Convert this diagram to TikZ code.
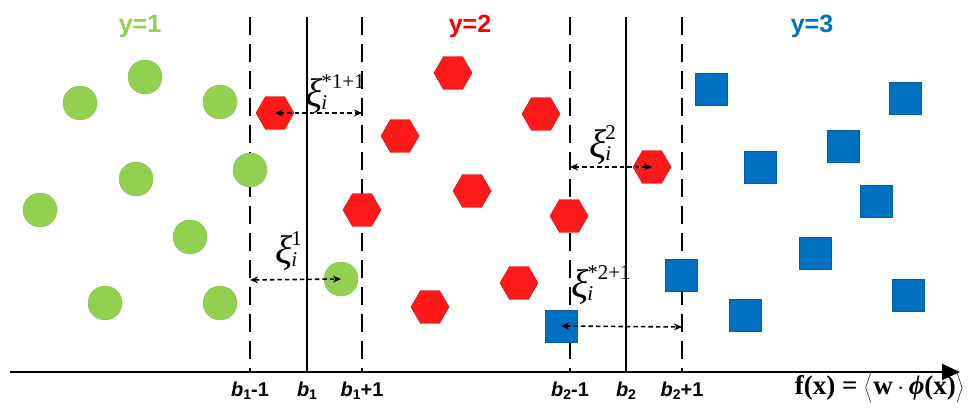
\documentclass[tikz,border=0pt]{standalone}
\usepackage{fontspec}
\setmainfont{Liberation Serif}
\setsansfont{Liberation Sans}
\usetikzlibrary{shapes.geometric,arrows.meta}
\definecolor{cgreen}{HTML}{92D050}
\definecolor{cred}{HTML}{FF1A1A}
\definecolor{cblue}{HTML}{0070C0}
\newcommand{\xil}[1]{{\fontsize{40}{40}\selectfont\itshape ξ}\kern-1pt\rlap{\raisebox{-3pt}{\fontsize{21}{21}\selectfont\itshape i}}\raisebox{18pt}{\fontsize{21}{21}\selectfont\upshape #1}}
\newcommand{\blab}[2]{{\sffamily\bfseries\fontsize{20}{20}\selectfont\itshape b\/\upshape\raisebox{-3pt}{\fontsize{14}{14}\selectfont #1}#2}}
\newcommand{\fxlabel}{\fontsize{27}{27}\selectfont\bfseries f(x) = \(\bigangle{\langle}\)w\,\(\cdot\)\,\textit{ϕ}(x)\(\bigangle{\rangle}\)}
\newcommand{\bigangle}[1]{\hbox{\boldmath$\left#1\vrule height 17pt depth 8pt width 0pt\right.$}}
\begin{document}
\begin{tikzpicture}[x=1pt,y=-1pt,
  circ/.style={circle, fill=cgreen, draw=cgreen!85!black, line width=0.3pt, minimum size=34pt, inner sep=0pt},
  hexa/.style={regular polygon, regular polygon sides=6, minimum size=38pt, fill=cred, draw=red!85!black, line width=0.4pt, inner sep=0pt},
  sq/.style={rectangle, fill=cblue, draw=cblue!85!black, line width=0.3pt, minimum size=32pt, inner sep=0pt},
  dline/.style={line width=1.9pt, dash pattern=on 18pt off 9pt},
  sline/.style={line width=1.9pt},
  darr/.style={line width=1.6pt, dash pattern=on 4.5pt off 3pt, {Stealth[length=8pt,width=7pt]}-{Stealth[length=8pt,width=7pt]}},
  toplab/.style={font=\sffamily\bfseries\fontsize{25}{25}\selectfont},
  xlab/.style={anchor=base west, inner sep=0pt},
  blabel/.style={anchor=base, inner sep=0pt}
]
\useasboundingbox (0,0) rectangle (970,409);

% top labels
\node[toplab, text=cgreen] (t1) at (140,26) {y=1};
\node[toplab, text=red] (t2) at (470,26) {y=2};
\node[toplab, text=cblue] (t3) at (812,26) {y=3};

% vertical lines
\coordinate (a1t) at (250,17); \coordinate (a1b) at (250,372);
\coordinate (s1t) at (307,17); \coordinate (s1b) at (307,372);
\coordinate (c1t) at (362,17); \coordinate (c1b) at (362,372);
\coordinate (a2t) at (570,17); \coordinate (a2b) at (570,372);
\coordinate (s2t) at (626,17); \coordinate (s2b) at (626,372);
\coordinate (c2t) at (682,17); \coordinate (c2b) at (682,372);
\draw[dline] (a1t) -- (a1b);
\draw[sline] (s1t) -- (s1b);
\draw[dline] (c1t) -- (c1b);
\draw[dline] (a2t) -- (a2b);
\draw[sline] (s2t) -- (s2b);
\draw[dline] (c2t) -- (c2b);

% axis
\coordinate (ax0) at (10,372);
\coordinate (ax1) at (960,372);
\draw[line width=2pt, -{Triangle[length=18pt,width=16pt]}] (ax0) -- (ax1);

% green circles
\node[circ] (g1) at (145,77) {};
\node[circ] (g2) at (80,103) {};
\node[circ] (g3) at (220,102) {};
\node[circ] (g4) at (250,170) {};
\node[circ] (g5) at (136,179) {};
\node[circ] (g6) at (40,210) {};
\node[circ] (g7) at (190,237) {};
\node[circ] (g8) at (105,303) {};
\node[circ] (g9) at (220,303) {};
\node[circ] (g10) at (341,279) {};

% red hexagons
\node[hexa] (h1) at (453,73) {};
\node[hexa] (h2) at (275,113) {};
\node[hexa] (h3) at (541,114) {};
\node[hexa] (h4) at (400,136) {};
\node[hexa] (h5) at (472,191) {};
\node[hexa] (h6) at (362,210) {};
\node[hexa] (h7) at (569,216) {};
\node[hexa] (h8) at (519,283) {};
\node[hexa] (h9) at (430,307) {};
\node[hexa] (h10) at (652,167) {};

% blue squares
\node[sq] (q1) at (711,89) {};
\node[sq] (q2) at (905,98) {};
\node[sq] (q3) at (760,167) {};
\node[sq] (q4) at (843,146) {};
\node[sq] (q5) at (876,201) {};
\node[sq] (q6) at (815,253) {};
\node[sq] (q7) at (681,275) {};
\node[sq] (q8) at (745,315) {};
\node[sq] (q9) at (908,295) {};
\node[sq] (q10) at (561,326) {};

% slack arrows
\coordinate (e1) at (362,113);
\coordinate (e2) at (570,167);
\coordinate (e3) at (250,280);
\coordinate (e4) at (682,327);
\draw[darr] (h2.center) -- (e1);
\draw[darr] (e2) -- (h10.center);
\draw[darr] (e3) -- (g10.center);
\draw[darr] (q10.center) -- (e4);

% slack labels
\node[xlab] (x1) at (305,107) {\xil{*1+1}};
\node[xlab] (x2) at (589,158) {\xil{2}};
\node[xlab] (x3) at (275,263) {\xil{1}};
\node[xlab] (x4) at (571,297) {\xil{*2+1}};

% axis labels
\node[blabel] (b1m) at (250,396) {\blab{1}{-1}};
\node[blabel] (b1) at (307,396) {\blab{1}{}};
\node[blabel] (b1p) at (362,396) {\blab{1}{+1}};
\node[blabel] (b2m) at (570,396) {\blab{2}{-1}};
\node[blabel] (b2) at (626,396) {\blab{2}{}};
\node[blabel] (b2p) at (682,396) {\blab{2}{+1}};
\node[anchor=base, inner sep=0pt] (fx) at (880,394) {\fxlabel};
\end{tikzpicture}
\end{document}
